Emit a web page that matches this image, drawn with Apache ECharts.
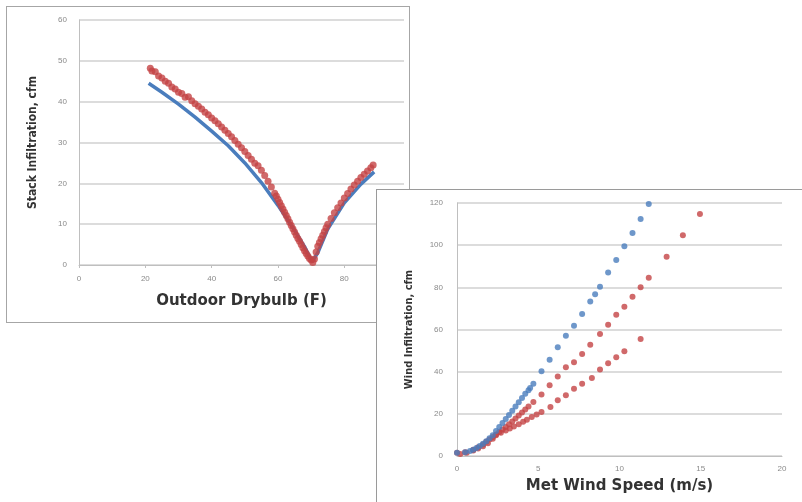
<!DOCTYPE html>
<html>
<head>
<meta charset="utf-8">
<script src="https://cdn.jsdelivr.net/npm/echarts@6/dist/echarts.min.js"></script>
<style>
  body { margin: 0; background: #fff; width: 802px; height: 502px; overflow: hidden; position: relative; }
  .frame { position: absolute; box-sizing: border-box; background: #fff; }
  #stack { left: 6px; top: 6px; width: 404px; height: 317px; border: 1px solid #a6a6a6; }
  #wind { left: 376px; top: 189px; width: 442px; height: 332px; border: 1px solid #9a9a9a; }
</style>
</head>
<body>
<div id="stack" class="frame"></div>
<div id="wind" class="frame"></div>
<script>
// Stack infiltration (cfm) vs outdoor drybulb (F)
var stackModel = [
  [21, 44.5], [25, 42.3], [30, 39.4], [35, 36.2], [40, 32.8], [45, 29.2], [50, 25],
  [55, 20.2], [60, 14.6], [65, 8.5], [68, 4.5], [70.3, 0.8], [72, 3], [75, 8.8],
  [80, 15.2], [85, 19.8], [89, 22.8]
];
var stackMeasured = [
  [21.5, 48.2], [22, 47.5], [23, 47.3], [24, 46.3], [25, 45.8], [26, 45], [27, 44.5],
  [28, 43.6], [29, 43.1], [30, 42.3], [31, 42], [32, 41.1], [33, 41.2], [34, 40.2],
  [35, 39.5], [36, 38.9], [37, 38.2], [38, 37.4], [39, 36.8], [40, 36], [41, 35.3],
  [42, 34.6], [43, 33.8], [44, 33], [45, 32.2], [46, 31.4], [47, 30.5], [48, 29.6],
  [49, 28.7], [50, 27.8], [51, 26.8], [52, 25.9], [53, 24.9], [54, 24.3], [55, 23.2],
  [56, 21.9], [57, 20.5], [58, 19.1], [59, 17.6], [59.5, 16.9], [60, 16.1], [60.5, 15.3],
  [61, 14.5], [61.5, 13.7], [62, 12.9], [62.5, 12.1], [63, 11.3], [63.5, 10.5], [64, 9.7],
  [64.5, 8.9], [65, 8.1], [65.5, 7.3], [66, 6.5], [66.5, 5.8], [67, 5], [67.5, 4.2],
  [68, 3.5], [68.5, 2.8], [69, 2.2], [69.5, 1.6], [70, 1.2], [70.5, 0.6], [71, 1.5],
  [71.5, 3.2], [72, 4.6], [72.5, 5.5], [73, 6.4], [73.5, 7.3], [74, 8.2], [74.5, 9.1],
  [75, 10], [76, 11.4], [77, 12.8], [78, 14], [79, 15.2], [80, 16.4], [81, 17.5],
  [82, 18.6], [83, 19.6], [84, 20.5], [85, 21.4], [86, 22.2], [87, 23], [88, 23.8], [88.7, 24.5]
];
var stackXTicks = [0, 20, 40, 60, 80];
var stackYTicks = [0, 10, 20, 30, 40, 50, 60];

// Wind infiltration (cfm) vs met wind speed (m/s)
var windHigh = [
  [0, 1.5], [0.5, 1.8], [0.8, 2.4], [1, 3], [1.2, 3.8], [1.4, 4.8], [1.6, 5.8], [1.8, 7],
  [2, 8.4], [2.2, 9.8], [2.4, 11.8], [2.6, 13.8], [2.8, 15.6], [3, 17.5], [3.2, 19.5],
  [3.4, 21.5], [3.6, 23.5], [3.8, 25.5], [4, 27.5], [4.2, 29.5], [4.4, 31.2], [4.5, 32.3],
  [4.7, 34.3], [5.2, 40.2], [5.7, 45.6], [6.2, 51.6], [6.7, 57], [7.2, 61.8], [7.7, 67.3],
  [8.2, 73.3], [8.5, 76.7], [8.8, 80.3], [9.3, 87], [9.8, 93], [10.3, 99.5], [10.8, 105.8],
  [11.3, 112.4], [11.8, 119.5]
];
var windMid = [
  [0, 1.5], [0.5, 1.8], [1, 3], [1.3, 4.2], [1.6, 5.5], [1.8, 6.7], [2, 7.8], [2.2, 9],
  [2.4, 10.2], [2.6, 11.4], [2.8, 12.6], [3, 13.8], [3.2, 15.1], [3.4, 16.4], [3.6, 17.8],
  [3.8, 19.2], [4, 20.6], [4.2, 22], [4.4, 23.5], [4.7, 25.6], [5.2, 29.2], [5.7, 33.5],
  [6.2, 37.7], [6.7, 42.1], [7.2, 44.5], [7.7, 48.4], [8.2, 52.8], [8.8, 57.9], [9.3, 62.3],
  [9.8, 67], [10.3, 70.8], [10.8, 75.5], [11.3, 80], [11.8, 84.5], [12.9, 94.5],
  [13.9, 104.7], [14.95, 114.8]
];
var windLow = [
  [0.2, 1], [0.6, 1.5], [1, 2.6], [1.3, 3.5], [1.6, 4.6], [1.9, 6], [2.2, 8.2], [2.4, 9.9],
  [2.7, 11], [3, 12.1], [3.25, 13], [3.5, 14], [3.8, 15.1], [4.07, 16.2], [4.3, 17.2],
  [4.6, 18.5], [4.9, 19.7], [5.2, 20.9], [5.75, 23.3], [6.2, 26.4], [6.7, 28.8], [7.2, 31.9],
  [7.7, 34.3], [8.3, 37], [8.8, 41], [9.3, 44], [9.8, 46.8], [10.3, 49.7], [11.3, 55.5]
];
var windXTicks = [0, 5, 10, 15, 20];
var windYTicks = [0, 20, 40, 60, 80, 100, 120];

var blue = '#4a7dbd';
var red = '#c44445';

function valueAxis(ticks, extra) {
  var ax = {
    type: 'value',
    min: ticks[0],
    max: ticks[ticks.length - 1],
    interval: ticks[1] - ticks[0],
    axisLine: { show: true, lineStyle: { color: '#bfbfbf', width: 1 } },
    axisTick: { show: false },
    axisLabel: { fontSize: 8, color: '#8a8a8a', fontFamily: 'DejaVu Sans' },
    splitLine: { show: false },
    nameLocation: 'middle',
    nameTextStyle: { fontWeight: 'bold', color: '#333', fontFamily: 'DejaVu Sans', fontSize: 15 }
  };
  for (var k in extra) ax[k] = extra[k];
  return ax;
}

var stackChart = echarts.init(document.getElementById('stack'));
stackChart.setOption({
  animation: false,
  grid: { left: 72, top: 13, right: 5, bottom: 57 },
  xAxis: valueAxis(stackXTicks, {
    max: 98,
    name: 'Outdoor Drybulb (F)',
    nameGap: 29,
    axisTick: { show: true, length: 3, lineStyle: { color: '#bfbfbf' } },
    axisLabel: { fontSize: 8, color: '#8a8a8a', showMaxLabel: false, margin: 10 }
  }),
  yAxis: valueAxis(stackYTicks, {
    name: 'Stack Infiltration, cfm',
    nameGap: 40,
    nameTextStyle: { fontWeight: 'bold', color: '#333', fontFamily: 'DejaVu Sans Condensed, Liberation Sans Narrow, sans-serif', fontSize: 12 },
    axisLabel: { fontSize: 8, color: '#8a8a8a', margin: 12 },
    splitLine: { show: true, lineStyle: { color: '#dcdcdc', width: 2 } }
  }),
  series: [
    {
      type: 'line', data: stackModel, showSymbol: false, smooth: false,
      lineStyle: { color: blue, width: 3.5 }, z: 2
    },
    {
      type: 'scatter', data: stackMeasured, symbol: 'circle', symbolSize: 7,
      itemStyle: { color: red }, z: 3
    }
  ]
});

var windChart = echarts.init(document.getElementById('wind'));
windChart.setOption({
  animation: false,
  grid: { left: 80, top: 13, right: 35, bottom: 64 },
  xAxis: valueAxis(windXTicks, {
    name: 'Met Wind Speed (m/s)',
    nameGap: 23,
    axisLabel: { fontSize: 8, color: '#8a8a8a', margin: 9 }
  }),
  yAxis: valueAxis(windYTicks, {
    name: 'Wind Infiltration, cfm',
    nameGap: 42,
    nameTextStyle: { fontWeight: 'bold', color: '#333', fontFamily: 'DejaVu Sans Condensed, Liberation Sans Narrow, sans-serif', fontSize: 11 },
    axisLabel: { fontSize: 8, color: '#8a8a8a', margin: 14 },
    splitLine: { show: true, lineStyle: { color: '#dcdcdc', width: 2 } }
  }),
  series: [
    { type: 'scatter', data: windLow, symbolSize: 6, itemStyle: { color: red } },
    { type: 'scatter', data: windMid, symbolSize: 6, itemStyle: { color: red } },
    { type: 'scatter', data: windHigh, symbolSize: 6, itemStyle: { color: blue } }
  ]
});
</script>
</body>
</html>
